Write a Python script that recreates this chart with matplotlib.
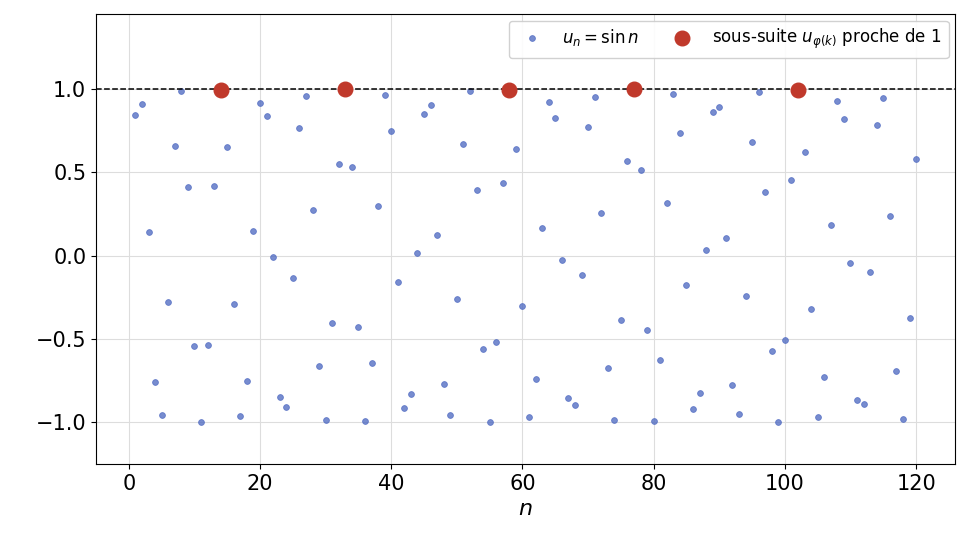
import matplotlib
matplotlib.use("Agg")
import matplotlib.pyplot as plt

n_vals = list(range(1, 121))
u_vals = [0.841,0.909,0.141,-0.757,-0.959,-0.279,0.657,0.989,0.412,-0.544,
-1.000,-0.537,0.420,0.991,0.650,-0.288,-0.961,-0.751,0.150,0.913,
0.837,-0.009,-0.846,-0.906,-0.132,0.763,0.956,0.271,-0.664,-0.988,
-0.404,0.551,1.000,0.529,-0.428,-0.992,-0.644,0.296,0.964,0.745,
-0.158,-0.917,-0.832,0.018,0.851,0.902,0.124,-0.768,-0.954,-0.262,
0.670,0.987,0.396,-0.559,-1.000,-0.521,0.436,0.993,0.637,-0.305,
-0.966,-0.739,0.167,0.920,0.827,-0.027,-0.856,-0.898,-0.115,0.774,
0.951,0.254,-0.677,-0.985,-0.388,0.566,0.999,0.514,-0.444,-0.994,
-0.629,0.313,0.968,0.733,-0.176,-0.923,-0.822,0.035,0.860,0.894,
0.106,-0.779,-0.948,-0.245,0.683,0.984,0.380,-0.574,-0.999,-0.506,
0.452,0.995,0.622,-0.322,-0.971,-0.727,0.184,0.926,0.817,-0.044,
-0.865,-0.890,-0.098,0.785,0.945,0.237,-0.690,-0.982,-0.372,0.581]
sub_n = [14, 33, 58, 77, 102]
sub_u = [u_vals[k - 1] for k in sub_n]

fig = plt.figure(figsize=(9.7, 5.57), dpi=100)
ax = fig.add_axes([0.099, 0.167, 0.886, 0.808])
ax.plot(n_vals, u_vals, 'o', color='#4a66c0', alpha=0.75, markersize=4.2,
        markeredgewidth=0.6, label=r'$u_n = \sin n$')
ax.plot(sub_n, sub_u, 'o', color='#c0392b', markersize=10.5, label=r'sous-suite $u_{\varphi(k)}$ proche de 1', zorder=3)
ax.axhline(1.0, color='black', linestyle='--', linewidth=1.1)
ax.set_xlim(-5, 126)
ax.set_ylim(-1.25, 1.45)
ax.set_yticks([-1.0, -0.5, 0.0, 0.5, 1.0])
ax.grid(True, color='#dddddd', linewidth=0.8)
ax.set_axisbelow(True)
ax.tick_params(labelsize=15)
ax.set_xlabel(r'$n$', fontsize=16)
ax.legend(loc='upper right', ncol=2, fontsize=12, framealpha=0.9,
          handletextpad=0.8, columnspacing=1.6, borderaxespad=0.4)
fig.savefig('out.png', dpi=100)
